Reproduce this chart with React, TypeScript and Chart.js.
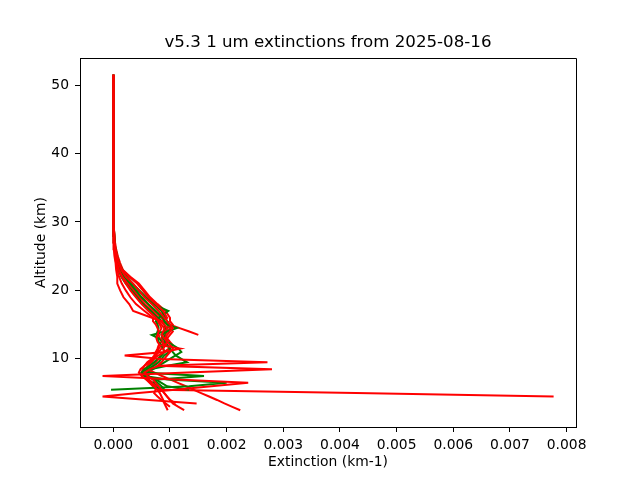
import { useEffect, useRef } from "react";
import { Chart, registerables } from "chart.js";

Chart.register(...registerables);

const TITLE = "v5.3 1 um extinctions from 2025-08-16";
const X_LABEL = "Extinction (km-1)";
const Y_LABEL = "Altitude (km)";

// altitude grid (km) shared by every profile
const ALTITUDE = [
  2.5, 3, 3.5, 4, 4.5, 5, 5.5, 6, 6.5, 7,
  7.5, 8, 8.5, 9, 9.5, 10, 10.5, 11, 11.5, 12,
  12.5, 13, 13.5, 14, 14.5, 15, 15.5, 16,
  17, 18, 19, 20, 21, 22, 23, 24, 25, 26, 27, 28, 29, 30,
  35, 40, 45, 51.5,
];

// extinction values in units of 1e-5 km-1, null = no retrieval at that altitude
const UNIT = 1e-5;

const RED_1 = [
  125, 115, 105, 100, 95, 90, 85, 80, 75, 70,
  60, 55, 65, 80, 272, 85, 20, 90, 88, 92,
  95, 90, 85, 88, 90, 85, 80, 75,
  62, 50, 40, 30, 22, 15, 10, 6, 4, 3, 2, 1, 1, 0.5,
  0.2, 0.1, 0, 0,
];
const RED_2 = [
  null, null, 147, 63, -19, 44, 109, 173, 238, 110,
  -19, 130, 280, 78, 85, 90, 95, 100, 105, 100,
  95, 92, 95, 100, 105, 100, 95, 90,
  80, 68, 55, 45, 35, 22, 14, 9, 6, 4, 2, 1.5, 1, 0.5,
  0.3, 0.1, 0, 0,
];
const RED_3 = [
  null, null, null, null, null, null, null, null, null, null,
  null, null, null, null, null, null, null, null, null, null,
  null, null, 150, 134, 117, 100, 84, 68,
  35, 28, 18, 12, 7, 7, 5, 4, 2, 1, 1, 0.5, 0.5, 0.3,
  0.2, 0.1, 0, 0,
];
const RED_4 = [
  null, null, null, null, 777, 428, 80, 75, 68, 60,
  55, 50, 55, 62, 68, 72, 75, 80, 85, 90,
  88, 85, 88, 92, 95, 90, 85, 95,
  88, 75, 62, 52, 42, 28, 16, 10, 7, 4, 3, 2, 1, 1,
  0.3, 0.1, 0, 0,
];
const RED_5 = [
  96, 93, 90, 88, 85, 82, 78, 72, 65, 58,
  50, 45, 48, 55, 62, 70, 80, 90, 118, 82,
  78, 76, 78, 80, 78, 75, 70, 70,
  55, 40, 30, 22, 15, 10, 7, 5, 3, 2, 1, 1, 0.5, 0.5,
  0.2, 0, 0, 0,
];
const RED_6 = [
  224, 210, 196, 183, 169, 155, 141, 128, 114, 100,
  86, 73, 59, 60, 65, 70, 75, 78, 80, 85,
  90, 95, 100, 105, 100, 95, 90, 85,
  72, 60, 48, 38, 28, 18, 12, 8, 5, 3, 2, 1, 1, 0.5,
  0.2, 0.1, 0, 0,
];
const RED_7 = [
  null, 100, 92, 85, 78, 72, 75, 70, 64, 58,
  52, 50, 52, 55, 60, 68, 72, 75, 78, 80,
  85, 82, 80, 82, 85, 82, 78, 80,
  68, 55, 45, 35, 25, 17, 11, 7, 5, 3, 2, 1, 0.5, 0.5,
  0.2, 0.1, 0, 0,
];
const RED_8 = [
  null, null, 110, 100, 95, 90, 85, 78, 70, 62,
  58, 60, 65, 70, 75, 80, 85, 90, 98, 105,
  100, 95, 92, 95, 100, 105, 100, 100,
  92, 78, 65, 55, 45, 30, 17, 12, 8, 5, 3, 2, 1, 1,
  0.3, 0.1, 0, 0,
];
const GREEN_1 = [
  null, null, null, null, null, null, -4, 134, 200, 95,
  55, 52, 60, 72, 80, 85, 90, 98, 100, 95,
  92, 88, 85, 95, 112, 95, 90, 88,
  75, 62, 50, 40, 30, 20, 13, 8, 5, 3, 2, 1, 1, 0.5,
  0.2, 0.1, 0, 0,
];
const GREEN_2 = [
  null, null, null, null, null, null, null, 75, 70, 80,
  160, 55, 65, 95, 130, 120, 110, 105, 100, 95,
  88, 80, 68, 90, 92, 90, 85, 80,
  97, 70, 56, 44, 34, 24, 16, 10, 7, 4, 3, 2, 1, 0.5,
  0.2, 0, 0, 0,
];
const GREEN_3 = [
  null, null, null, null, null, null, 90, 85, 78, 70,
  62, 60, 70, 80, 90, 100, 110, 120, 115, 105,
  95, 92, 90, 92, 95, 100, 95, 92,
  85, 72, 58, 46, 34, 22, 14, 9, 6, 4, 2, 1.5, 1, 0.5,
  0.3, 0.1, 0, 0,
];
const GREEN_4 = [
  null, null, null, null, null, null, 134, 95, 85, 75,
  60, 50, 55, 65, 72, 78, 85, 90, 88, 85,
  80, 78, 76, 78, 80, 78, 75, 78,
  66, 52, 42, 32, 22, 14, 9, 6, 4, 2, 1, 1, 0.5, 0.5,
  0.2, 0.1, 0, 0,
];

const RED = "#ff0000";
const GREEN = "#008000";

// drawing order: first entry ends up on top
const PROFILES = [
  { values: RED_1, color: RED },
  { values: RED_2, color: RED },
  { values: RED_5, color: RED },
  { values: GREEN_1, color: GREEN },
  { values: RED_3, color: RED },
  { values: GREEN_4, color: GREEN },
  { values: RED_4, color: RED },
  { values: GREEN_2, color: GREEN },
  { values: RED_6, color: RED },
  { values: GREEN_3, color: GREEN },
  { values: RED_7, color: RED },
  { values: RED_8, color: RED },
];

const X_TICKS = [0, 0.001, 0.002, 0.003, 0.004, 0.005, 0.006, 0.007, 0.008];
const Y_TICKS = [10, 20, 30, 40, 50];
const X_MIN = -0.000588;
const X_MAX = 0.008165;
const Y_MIN = 0.05;
const Y_MAX = 53.95;

const FONT = { family: "'DejaVu Sans'", size: 13.89 };

const toPoints = (values: (number | null)[]) =>
  ALTITUDE.flatMap((alt, i) =>
    values[i] === null ? [] : [{ x: (values[i] as number) * UNIT, y: alt }]
  );

// matplotlib-style closed frame plus the title over the axes
const framePlugin = {
  id: "frame",
  afterDraw(chart: Chart) {
    const { ctx, chartArea } = chart;
    const { left, right, top, bottom } = chartArea;
    ctx.save();
    ctx.strokeStyle = "#000";
    ctx.lineWidth = 1;
    ctx.beginPath();
    ctx.moveTo(Math.round(left) + 0.5, Math.round(top) + 0.5);
    ctx.lineTo(Math.round(right) + 0.5, Math.round(top) + 0.5);
    ctx.lineTo(Math.round(right) + 0.5, Math.round(bottom) + 0.5);
    ctx.stroke();
    ctx.fillStyle = "#000";
    ctx.font = "16.67px 'DejaVu Sans'";
    ctx.textAlign = "center";
    ctx.textBaseline = "middle";
    ctx.fillText(TITLE, (left + right) / 2, 43);
    ctx.restore();
  },
};

export default function App() {
  const canvasRef = useRef<HTMLCanvasElement>(null);

  useEffect(() => {
    document.body.style.margin = "0";
    const ctx = canvasRef.current!.getContext("2d")!;

    const chart = new Chart(ctx, {
      type: "scatter",
      data: {
        datasets: PROFILES.map((p) => ({
          data: toPoints(p.values),
          borderColor: p.color,
          backgroundColor: p.color,
          borderWidth: 2,
          showLine: true,
          pointRadius: 0,
          pointHoverRadius: 0,
          tension: 0,
          fill: false,
        })),
      },
      options: {
        responsive: false,
        animation: false,
        layout: { padding: { top: 58, right: 64, left: 0, bottom: 0 } },
        plugins: {
          legend: { display: false },
          tooltip: { enabled: false },
        },
        scales: {
          x: {
            type: "linear",
            min: X_MIN,
            max: X_MAX,
            afterBuildTicks: (scale: any) => {
              scale.ticks = X_TICKS.map((v) => ({ value: v }));
            },
            afterFit: (scale: any) => {
              scale.height = 53;
            },
            ticks: {
              color: "#000",
              font: FONT,
              padding: 5,
              maxRotation: 0,
              autoSkip: false,
              callback: (v: any) => Number(v).toFixed(3),
            },
            grid: {
              drawOnChartArea: false,
              drawTicks: true,
              tickLength: 5,
              color: "#000",
            },
            border: { display: true, color: "#000", width: 1 },
            title: {
              display: true,
              text: X_LABEL,
              color: "#000",
              font: FONT,
              padding: { top: 0, bottom: 9 },
            },
          },
          y: {
            type: "linear",
            min: Y_MIN,
            max: Y_MAX,
            afterBuildTicks: (scale: any) => {
              scale.ticks = Y_TICKS.map((v) => ({ value: v }));
            },
            afterFit: (scale: any) => {
              scale.width = 80;
            },
            ticks: {
              color: "#000",
              font: FONT,
              padding: 6,
              autoSkip: false,
              callback: (v: any) => String(v),
            },
            grid: {
              drawOnChartArea: false,
              drawTicks: true,
              tickLength: 5,
              color: "#000",
            },
            border: { display: true, color: "#000", width: 1 },
            title: {
              display: true,
              text: Y_LABEL,
              color: "#000",
              font: FONT,
              padding: { top: 33, bottom: 0 },
            },
          },
        },
      },
      plugins: [framePlugin],
    });

    return () => {
      chart.destroy();
    };
  }, []);

  return <canvas ref={canvasRef} width={640} height={480} style={{ display: "block" }} />;
}
